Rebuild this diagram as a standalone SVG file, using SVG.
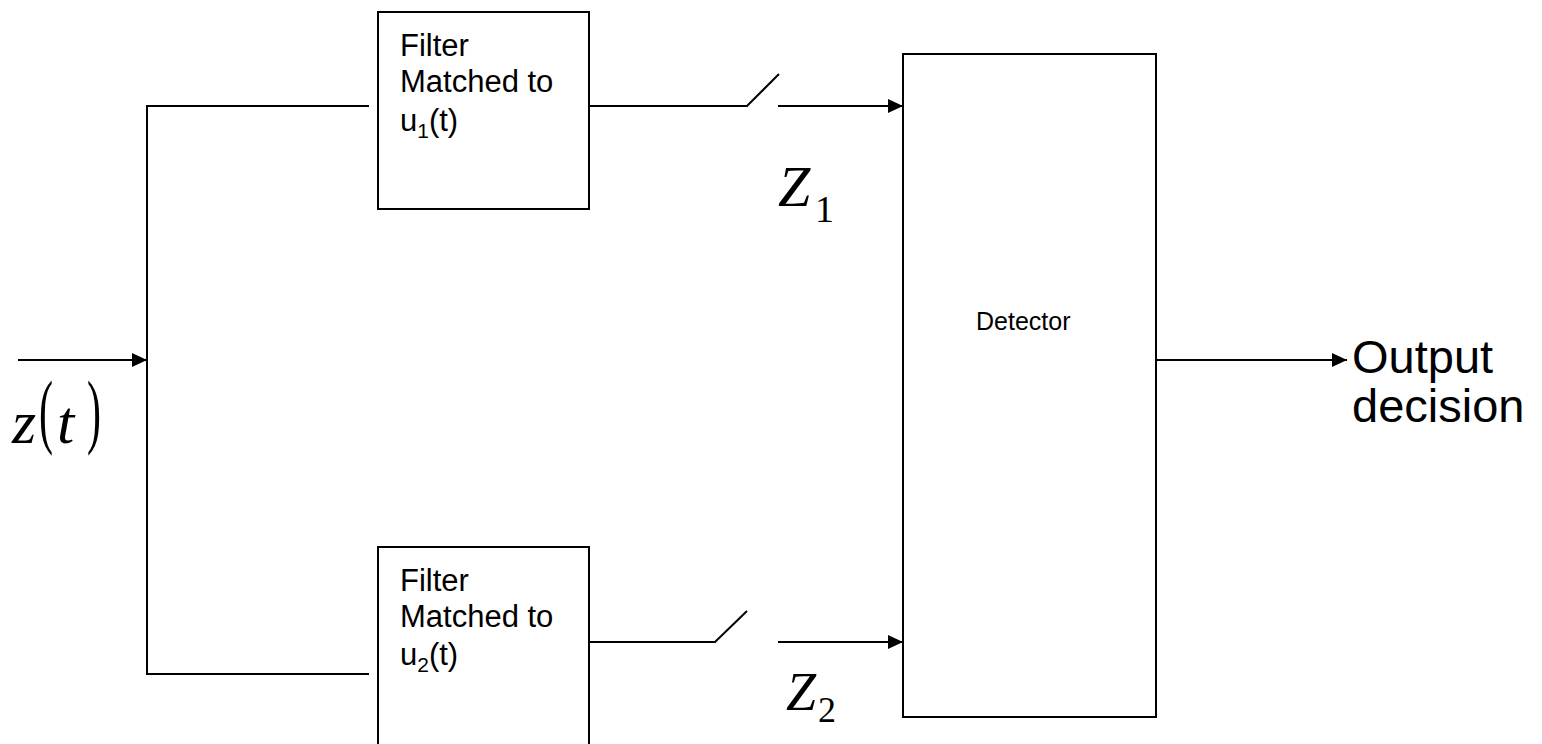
<svg xmlns="http://www.w3.org/2000/svg" width="1542" height="744" viewBox="0 0 1542 744">
<style>
.box{fill:#fff;stroke:#000;stroke-width:2}
.ln{fill:none;stroke:#000;stroke-width:2}
.sans{font-family:"Liberation Sans",Arial,sans-serif;fill:#000}
.math{font-family:"Liberation Serif","Times New Roman",serif;fill:#000}
</style>
<defs>
<marker id="ah" markerWidth="15" markerHeight="14" refX="15" refY="7" orient="auto" markerUnits="userSpaceOnUse">
<path d="M0,0 L15,7 L0,14 Z" fill="#000"/>
</marker>
</defs>
<rect width="1542" height="744" fill="#fff"/>
<g id="connectors">
<line class="ln" x1="18" y1="360" x2="147" y2="360" marker-end="url(#ah)"/>
<polyline class="ln" points="369,106 147,106 147,674 369,674"/>
<polyline class="ln" points="589,106 747,106 779,74"/>
<line class="ln" x1="778" y1="106" x2="903" y2="106" marker-end="url(#ah)"/>
<polyline class="ln" points="589,642 715,642 747,611"/>
<line class="ln" x1="778" y1="642" x2="903" y2="642" marker-end="url(#ah)"/>
<line class="ln" x1="1156" y1="360" x2="1347" y2="360" marker-end="url(#ah)"/>
</g>
<g id="filter1">
<rect class="box" x="378" y="12" width="211" height="197"/>
<text class="sans" font-size="31" x="400" y="56">Filter</text>
<text class="sans" font-size="31" x="400" y="92">Matched to</text>
<text class="sans" font-size="31" x="400" y="131">u<tspan font-size="21" dy="7">1</tspan><tspan dy="-7">(t)</tspan></text>
</g>
<g id="filter2">
<rect class="box" x="378" y="547" width="211" height="212"/>
<text class="sans" font-size="31" x="400" y="591">Filter</text>
<text class="sans" font-size="31" x="400" y="627">Matched to</text>
<text class="sans" font-size="31" x="400" y="665">u<tspan font-size="21" dy="7">2</tspan><tspan dy="-7">(t)</tspan></text>
</g>
<g id="detector">
<rect class="box" x="903" y="54" width="253" height="663"/>
<text class="sans" font-size="25" x="976" y="330">Detector</text>
</g>
<g id="label-z1">
<text class="math" x="778" y="206"><tspan font-size="58" font-style="italic">Z</tspan><tspan font-size="38" x="815" y="222">1</tspan></text>
</g>
<g id="label-z2">
<text class="math" x="786" y="710"><tspan font-size="54" font-style="italic">Z</tspan><tspan font-size="36" x="818" y="722">2</tspan></text>
</g>
<g id="label-zt">
<text class="math" x="12" y="443"><tspan font-size="62" font-style="italic">z</tspan><tspan font-size="82" x="39" y="438" textLength="14" lengthAdjust="spacingAndGlyphs">(</tspan><tspan font-size="62" font-style="italic" x="57" y="443">t</tspan><tspan font-size="82" x="87" y="438" textLength="14" lengthAdjust="spacingAndGlyphs">)</tspan></text>
</g>
<g id="label-output">
<text class="sans" font-size="47" x="1352" y="373">Output</text>
<text class="sans" font-size="47" x="1352" y="422">decision</text>
</g>
</svg>
